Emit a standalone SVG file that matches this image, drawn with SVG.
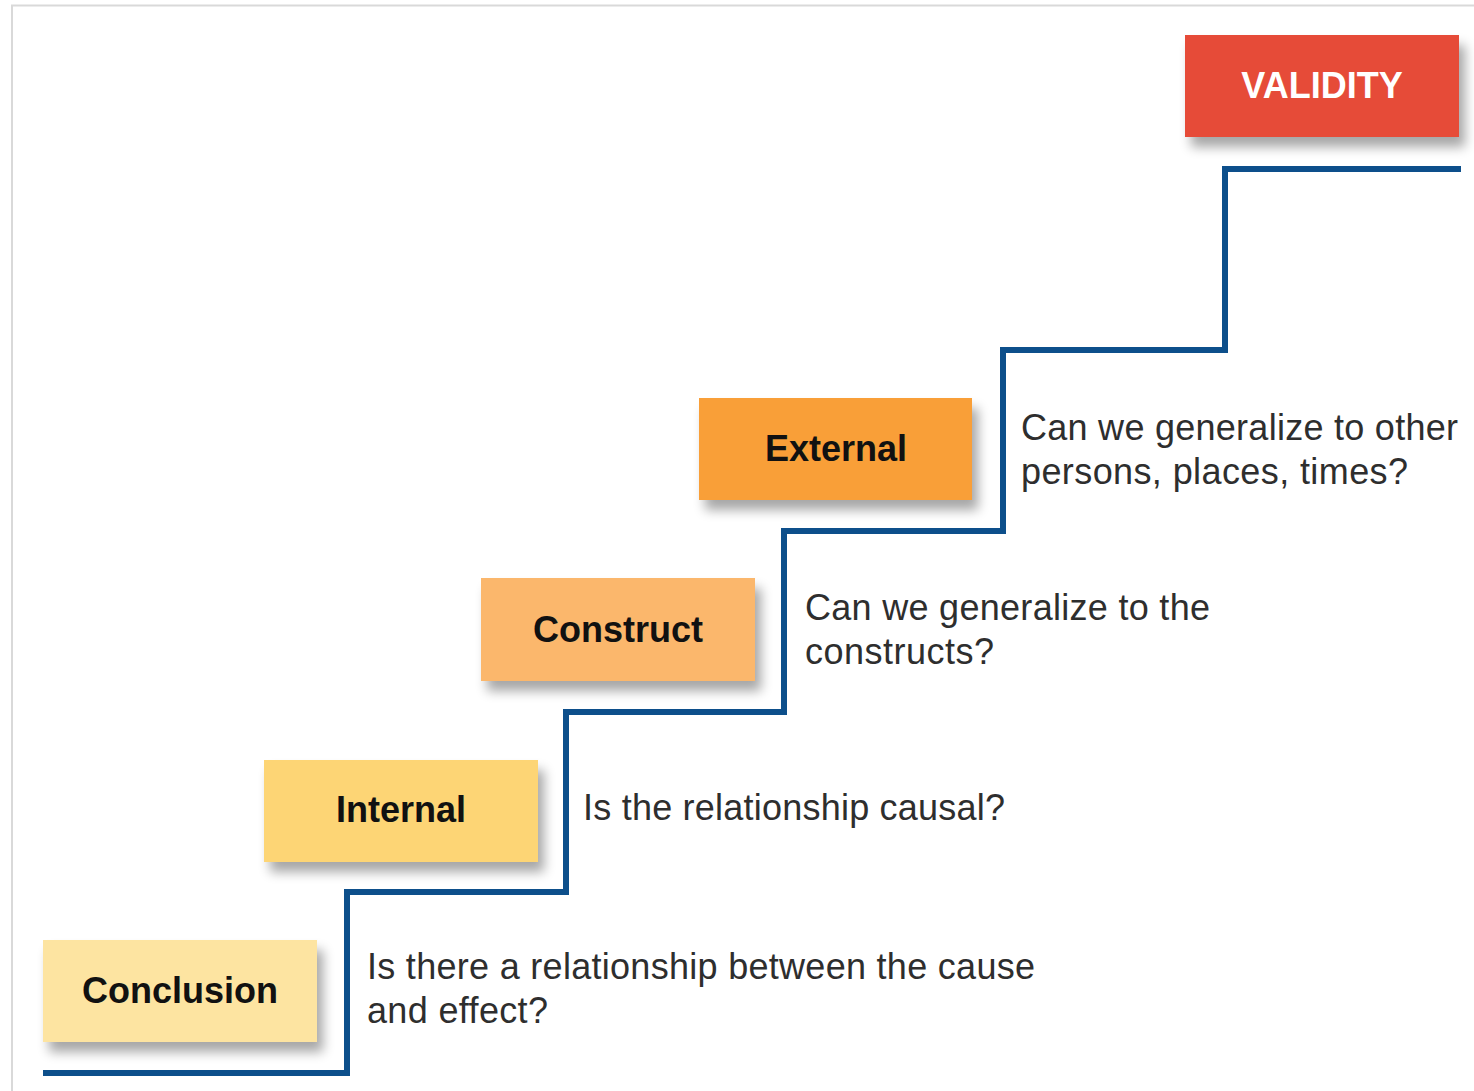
<svg xmlns="http://www.w3.org/2000/svg" width="1474" height="1091" viewBox="0 0 1474 1091">
  <style>
    .lbl { font-family: "Liberation Sans", Arial, sans-serif; font-weight: bold; font-size: 36px; text-anchor: middle; fill: #111; }
    .q { font-family: "Liberation Sans", Arial, sans-serif; font-size: 36px; fill: #2e2e2e; }
    .box { filter: url(#shadow); }
  </style>
  <defs>
    <filter id="shadow" x="-20%" y="-30%" width="150%" height="180%">
      <feGaussianBlur in="SourceAlpha" stdDeviation="6"/>
      <feOffset dx="6" dy="10" result="b"/>
      <feComponentTransfer><feFuncA type="linear" slope="0.35"/></feComponentTransfer>
      <feMerge><feMergeNode/><feMergeNode in="SourceGraphic"/></feMerge>
    </filter>
  </defs>
  <rect width="1474" height="1091" fill="#ffffff"/>
  <path d="M12 1091 V5.5 H1474" fill="none" stroke="#d9d9d9" stroke-width="2"/>
  <g id="connectors">
    <path d="M43 1073 H347 V892 H566 V712 H784 V531 H1003 V350 H1225 V169 H1461" fill="none" stroke="#0d4f8b" stroke-width="6"/>
  </g>
  <g id="conclusion">
    <rect class="box" x="43" y="940" width="274" height="102" fill="#fde4a1"/>
    <text class="lbl" x="180" y="1003">Conclusion</text>
  </g>
  <g id="internal">
    <rect class="box" x="264" y="760" width="274" height="102" fill="#fdd574"/>
    <text class="lbl" x="401" y="822">Internal</text>
  </g>
  <g id="construct">
    <rect class="box" x="481" y="578" width="274" height="103" fill="#fbb76c"/>
    <text class="lbl" x="618" y="642">Construct</text>
  </g>
  <g id="external">
    <rect class="box" x="699" y="398" width="273" height="102" fill="#f99f38"/>
    <text class="lbl" x="836" y="461">External</text>
  </g>
  <g id="validity">
    <rect class="box" x="1185" y="35" width="274" height="102" fill="#e64b39"/>
    <text class="lbl" x="1322" y="98" style="fill:#ffffff">VALIDITY</text>
  </g>
  <g id="questions">
    <text class="q" x="367" y="979" textLength="668" lengthAdjust="spacing">Is there a relationship between the cause</text>
    <text class="q" x="367" y="1023" textLength="181" lengthAdjust="spacing">and effect?</text>
    <text class="q" x="583" y="820" textLength="422" lengthAdjust="spacing">Is the relationship causal?</text>
    <text class="q" x="805" y="620" textLength="405" lengthAdjust="spacing">Can we generalize to the</text>
    <text class="q" x="805" y="664" textLength="189" lengthAdjust="spacing">constructs?</text>
    <text class="q" x="1021" y="440" textLength="437" lengthAdjust="spacing">Can we generalize to other</text>
    <text class="q" x="1021" y="484" textLength="387" lengthAdjust="spacing">persons, places, times?</text>
  </g>
</svg>
